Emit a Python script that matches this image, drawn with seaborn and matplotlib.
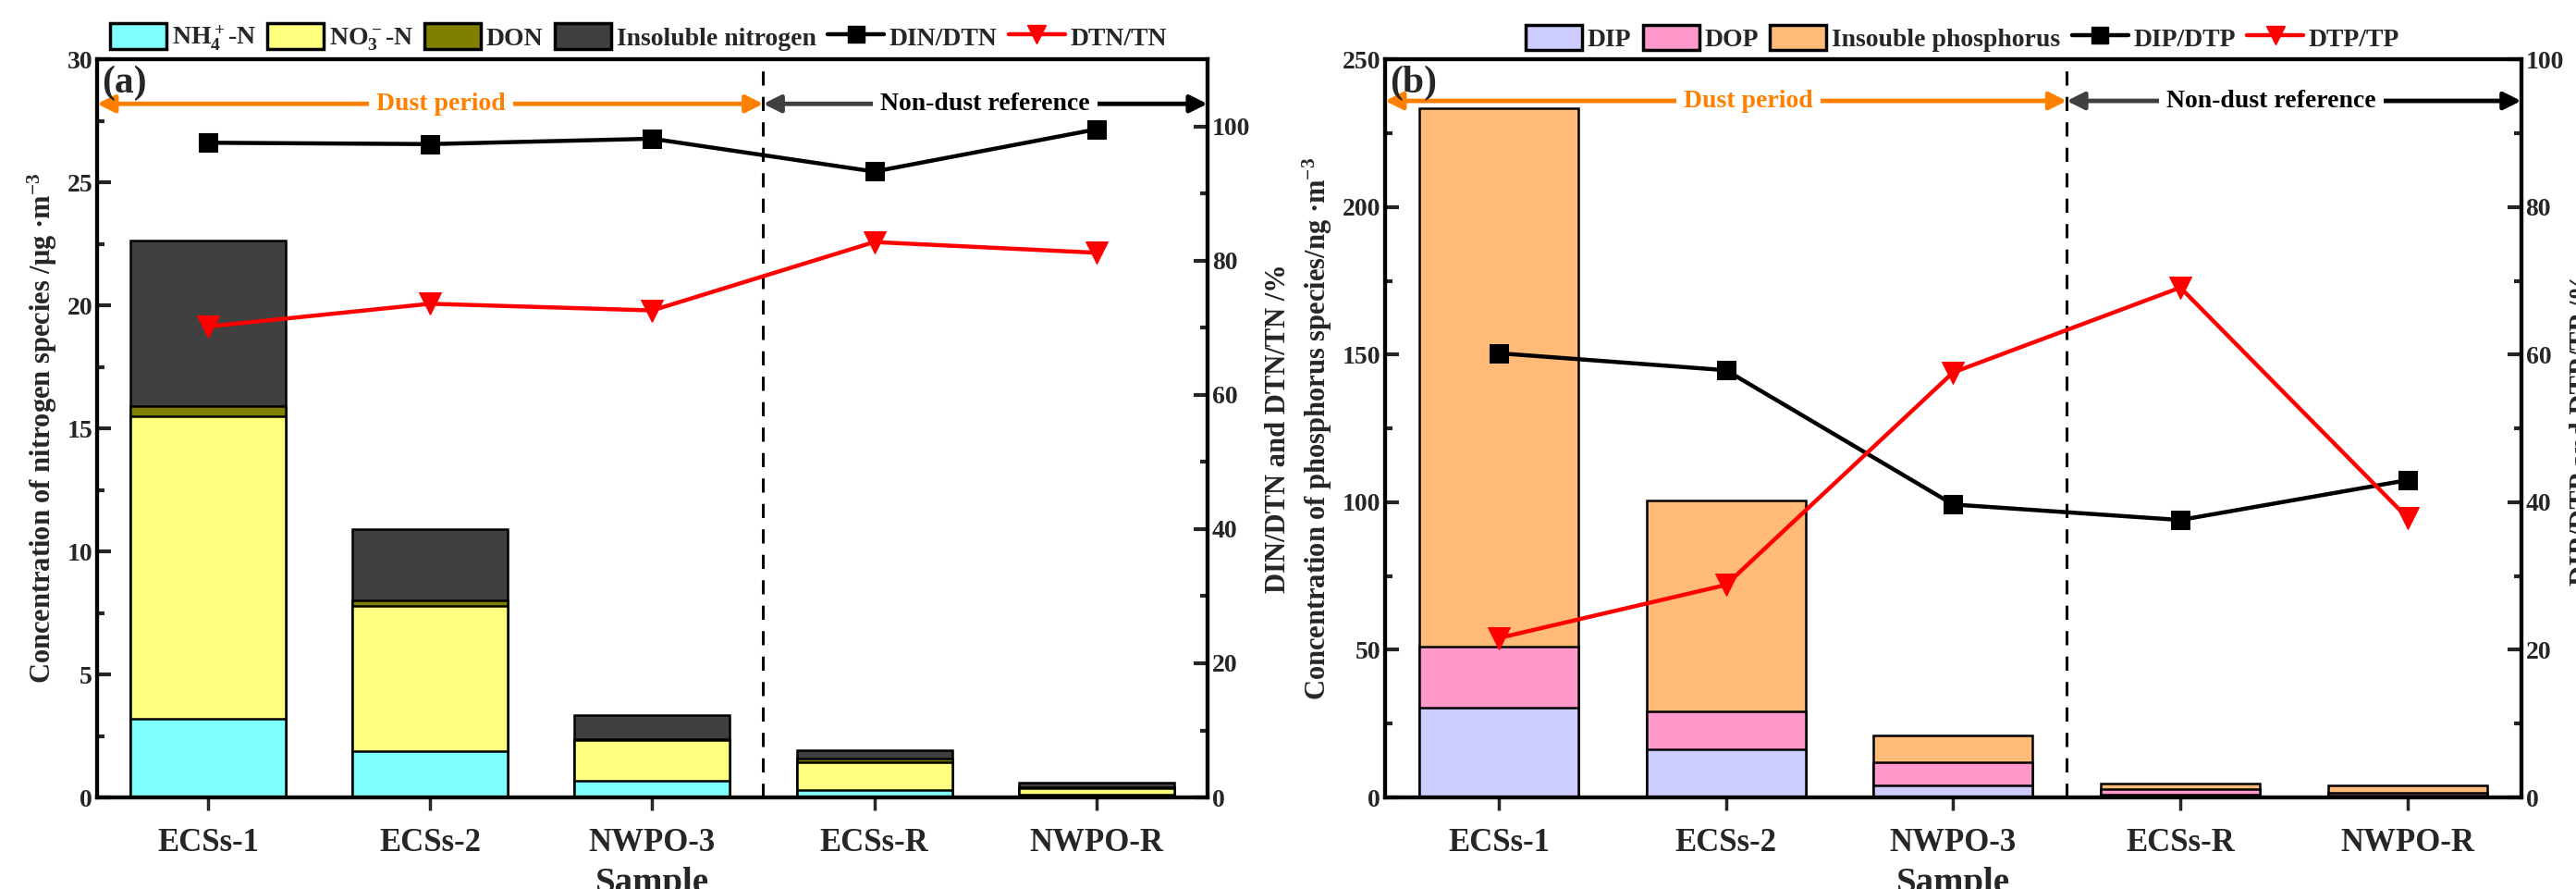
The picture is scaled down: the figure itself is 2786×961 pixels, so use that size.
import matplotlib

matplotlib.use("Agg")
import matplotlib.pyplot as plt
import numpy as np
import pandas as pd
import seaborn as sns
from matplotlib.lines import Line2D
from matplotlib.patches import Patch

samples = ["ECSs-1", "ECSs-2", "NWPO-3", "ECSs-R", "NWPO-R"]

# panel (a) nitrogen species, ug m-3
nh4 = [3.2, 1.88, 0.68, 0.30, 0.12]
no3 = [12.3, 5.92, 1.64, 1.14, 0.26]
don = [0.40, 0.20, 0.06, 0.15, 0.05]
insol_n = [6.76, 2.90, 0.98, 0.32, 0.19]
din_dtn = [97.6, 97.4, 98.2, 93.3, 99.6]
dtn_tn = [70.2, 73.6, 72.6, 82.8, 81.2]

# panel (b) phosphorus species, ng m-3
dip = [30.5, 16.4, 4.2, 0.85, 0.6]
dop = [20.5, 12.7, 7.7, 1.95, 1.0]
insol_p = [182.5, 71.4, 9.1, 2.0, 2.55]
dip_dtp = [60.2, 57.9, 39.7, 37.6, 43.0]
dtp_tp = [21.6, 28.8, 57.6, 69.1, 37.9]

n_labels = ["NH$_4^+$-N", "NO$_3^-$-N", "DON", "Insoluble nitrogen", "DIN/DTN", "DTN/TN"]
p_labels = ["DIP", "DOP", "Insouble phosphorus", "DIP/DTP", "DTP/TP"]
n_colors = ["#80FFFF", "#FFFF80", "#808000", "#404040"]
p_colors = ["#CCCCFF", "#FF99CC", "#FFBB77"]

sns.set_style("ticks")
plt.rcParams["font.family"] = ["Liberation Serif", "DejaVu Serif"]
plt.rcParams["font.weight"] = "bold"
plt.rcParams["axes.labelweight"] = "bold"
plt.rcParams["mathtext.fontset"] = "custom"
plt.rcParams["mathtext.rm"] = "Liberation Serif:bold"
plt.rcParams["mathtext.it"] = "Liberation Serif:bold"
plt.rcParams["mathtext.bf"] = "Liberation Serif:bold"

W, H = 2786, 961


def stacked(ax, parts, colors):
    cum = np.cumsum(np.array(parts), axis=0)
    # draw the tallest layer first, lower layers on top of it
    for layer, color in zip(cum[::-1], colors[::-1]):
        df = pd.DataFrame({"Sample": samples, "val": layer})
        sns.barplot(data=df, x="Sample", y="val", order=samples, color=color,
                    saturation=1, width=0.7, edgecolor="black", linewidth=1.8, ax=ax)


def ratio_lines(ax2, a, b):
    x = np.arange(len(samples))
    sns.lineplot(x=x, y=a, color="black", marker="s", markersize=15, lw=3.2,
                 markeredgecolor="black", ax=ax2, zorder=5)
    sns.lineplot(x=x, y=b, color="#FF0000", marker="v", markersize=17, lw=3.2,
                 markeredgecolor="#FF0000", ax=ax2, zorder=5)


def style_axes(ax, ax2, ymax, ystep, rmax):
    ax.set_xlim(-0.5, 4.5)
    ax.set_ylim(0, ymax)
    ax.set_yticks(np.arange(0, ymax + 0.01, ystep))
    ax.set_yticks(np.arange(ystep / 2, ymax, ystep), minor=True)
    ax2.set_ylim(0, rmax)
    ax2.set_yticks(np.arange(0, rmax + 0.01, 20))
    ax2.set_yticks(np.arange(10, rmax, 20), minor=True)
    for a in (ax, ax2):
        for s in a.spines.values():
            s.set_linewidth(3)
            s.set_visible(True)
            s.set_color("black")
    ax.tick_params(axis="y", which="major", direction="in", length=11, width=3, labelsize=20)
    ax.tick_params(axis="y", which="minor", direction="in", length=6, width=3)
    ax.tick_params(axis="x", direction="out", length=10, width=2.5, labelsize=25, pad=14)
    ax2.tick_params(axis="y", which="major", direction="in", length=11, width=3, labelsize=20)
    ax2.tick_params(axis="y", which="minor", direction="in", length=6, width=3)
    ax.set_xlabel("Sample", fontsize=28, labelpad=6)
    ax.axvline(2.5, color="black", lw=2.2, ls=(0, (5, 4)))


def period_arrows(ax, y, x_dust, x_ref):
    ax.annotate("", xy=(-0.5, y), xytext=(2.5, y),
                arrowprops=dict(arrowstyle="<|-|>", color="#FF8000", lw=3.5, mutation_scale=28,
                                shrinkA=0, shrinkB=0))
    ax.annotate("", xy=(2.5, y), xytext=(x_ref, y),
                arrowprops=dict(arrowstyle="-|>", color="#404040", lw=3.5, mutation_scale=28,
                                shrinkA=0, shrinkB=0))
    ax.annotate("", xy=(4.5, y), xytext=(x_ref, y),
                arrowprops=dict(arrowstyle="-|>", color="black", lw=3.5, mutation_scale=28,
                                shrinkA=0, shrinkB=0))
    ax.text(x_dust, y, "Dust period", color="#FF8000", fontsize=20, ha="center", va="center",
            bbox=dict(facecolor="white", edgecolor="none", pad=6), zorder=6)
    ax.text(x_ref, y, "Non-dust reference", color="black", fontsize=20, ha="center", va="center",
            bbox=dict(facecolor="white", edgecolor="none", pad=6), zorder=6)


def patch(c):
    return Patch(facecolor=c, edgecolor="black", linewidth=2.5)


def fit_legend(fig, handles, labels, x0, x1, yc):
    # shrink the font until the row fits between x0 and x1 (pixels), then pin its left edge
    for fs in np.arange(21, 14, -0.5):
        leg = fig.legend(handles, labels, ncol=len(labels), frameon=False, fontsize=fs,
                         handlelength=2.2, handleheight=1.15, handletextpad=0.2,
                         columnspacing=0.45, loc="center left", borderaxespad=0, borderpad=0,
                         bbox_to_anchor=(x0 / W, yc))
        fig.canvas.draw()
        bb = leg.get_window_extent()
        if bb.width <= (x1 - x0) or fs <= 15:
            shift = x0 - bb.x0
            leg.set_bbox_to_anchor(((x0 + shift) / W, yc), transform=fig.transFigure)
            return leg
        leg.remove()


fig = plt.figure(figsize=(W / 100, H / 100), dpi=100)
ax_a = fig.add_axes([0.0377, 0.103, 0.431, 0.830])
ax_b = fig.add_axes([0.5377, 0.103, 0.441, 0.830])

# (a) nitrogen
stacked(ax_a, [nh4, no3, don, insol_n], n_colors)
ax_a2 = ax_a.twinx()
ratio_lines(ax_a2, din_dtn, dtn_tn)
style_axes(ax_a, ax_a2, 30, 5, 110)
ax_a.set_ylabel("Concentration of nitrogen species /μg ·m$^{-3}$", fontsize=22, labelpad=6)
ax_a2.set_ylabel("DIN/DTN and DTN/TN /%", fontsize=22, rotation=90)
ax_a2.yaxis.set_label_coords(1.052, 0.5)
period_arrows(ax_a, 28.2, 1.05, 3.5)
ax_a.text(0.004, 0.992, "(a)", transform=ax_a.transAxes, fontsize=30, ha="left", va="top")

# (b) phosphorus
stacked(ax_b, [dip, dop, insol_p], p_colors)
ax_b2 = ax_b.twinx()
ratio_lines(ax_b2, dip_dtp, dtp_tp)
style_axes(ax_b, ax_b2, 250, 50, 100)
ax_b.set_ylabel("Concentration of phosphorus species/ng ·m$^{-3}$", fontsize=22, labelpad=6)
ax_b2.set_ylabel("DIP/DTP and DTP/TP /%", fontsize=22, rotation=90)
ax_b2.yaxis.set_label_coords(1.043, 0.5)
period_arrows(ax_b, 236, 1.1, 3.4)
ax_b.text(0.004, 0.992, "(b)", transform=ax_b.transAxes, fontsize=30, ha="left", va="top")

# legends above each panel
line_k = Line2D([], [], color="black", marker="s", markersize=13, lw=3.2)
line_r = Line2D([], [], color="#FF0000", marker="v", markersize=15, lw=3.2)
fit_legend(fig, [patch(c) for c in n_colors] + [line_k, line_r], n_labels, 119, 1290, 0.957)
fit_legend(fig, [patch(c) for c in p_colors] + [line_k, line_r], p_labels, 1650, 2596, 0.957)

fig.savefig("out.png", dpi=100)
